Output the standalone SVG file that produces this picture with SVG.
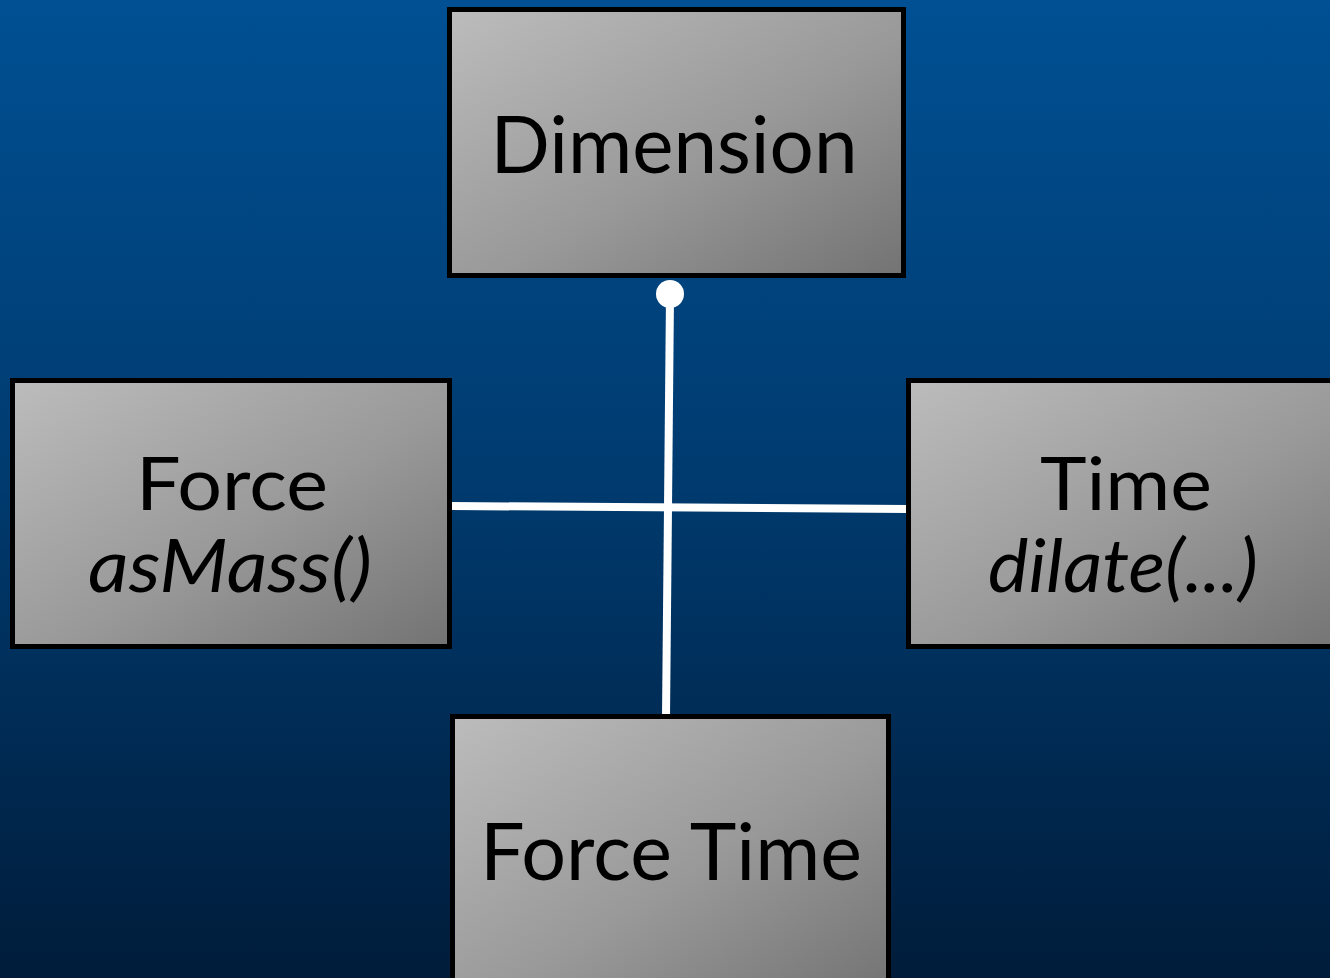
<svg xmlns="http://www.w3.org/2000/svg" width="1330" height="978" viewBox="0 0 1330 978">
<defs>
<linearGradient id="bg" x1="0" y1="0" x2="0" y2="1">
<stop offset="0" stop-color="#005093"/>
<stop offset="0.5" stop-color="#003a6e"/>
<stop offset="1" stop-color="#001c3a"/>
</linearGradient>
<linearGradient id="box" x1="0" y1="0" x2="1" y2="1">
<stop offset="0" stop-color="#bcbcbc"/>
<stop offset="0.55" stop-color="#999"/>
<stop offset="1" stop-color="#737373"/>
</linearGradient>
</defs>
<style>
.node rect{fill:url(#box);stroke:#000;stroke-width:5}
.node text{font-family:Lato,"Liberation Sans",sans-serif;font-size:80px;fill:#000;text-anchor:middle}
.node text.two{font-size:74px}
.node text.it{font-style:italic}
.conn line{stroke:#fff;stroke-width:8}
</style>
<rect x="0" y="0" width="1330" height="978" fill="url(#bg)"/>
<g class="conn" id="connectors">
<line x1="670" y1="296" x2="666" y2="718"/>
<line x1="451" y1="506" x2="908" y2="509"/>
<circle cx="670" cy="294" r="14" fill="#fff"/>
</g>
<g class="node" id="dimension">
<rect x="449.5" y="9.5" width="454" height="266"/>
<text x="674" y="173" textLength="367" lengthAdjust="spacingAndGlyphs">Dimension</text>
</g>
<g class="node" id="force">
<rect x="12.5" y="380.5" width="437" height="266"/>
<text class="two" x="232" y="510" textLength="192" lengthAdjust="spacingAndGlyphs">Force</text>
<text class="two it" x="230" y="592" textLength="284" lengthAdjust="spacingAndGlyphs">asMass()</text>
</g>
<g class="node" id="time">
<rect x="908.5" y="380.5" width="440" height="266"/>
<text class="two" x="1126" y="510" textLength="172" lengthAdjust="spacingAndGlyphs">Time</text>
<text class="two it" x="1123" y="592" textLength="270" lengthAdjust="spacingAndGlyphs">dilate(...)</text>
</g>
<g class="node" id="forcetime">
<rect x="452.5" y="716.5" width="436" height="280"/>
<text x="671" y="880" textLength="382" lengthAdjust="spacingAndGlyphs">Force Time</text>
</g>
</svg>
